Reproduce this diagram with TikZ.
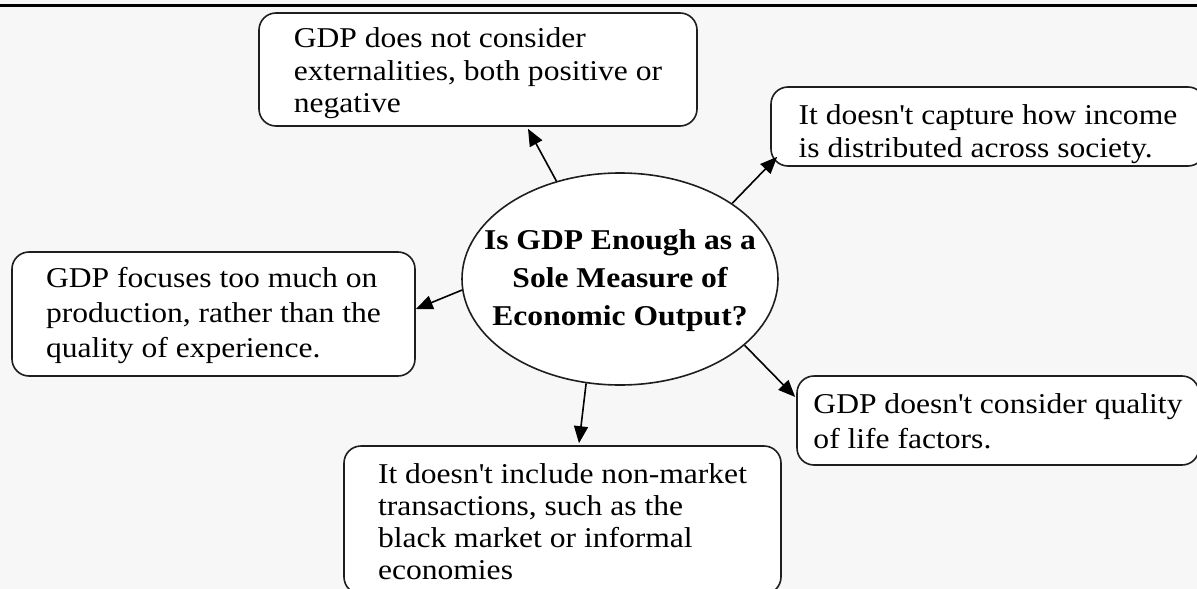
\documentclass[tikz,border=0pt]{standalone}
\usepackage{fontspec}
\setmainfont{Liberation Serif}[FakeStretch=1.1]
\usetikzlibrary{arrows.meta,shapes.geometric}
\definecolor{bgcol}{RGB}{247,247,247}
\definecolor{edgecol}{RGB}{30,30,30}
\newcommand\ap{\textquotesingle}
\newcommand\btext[2]{{\fontsize{28.7}{#1}\selectfont\begin{tabular}[t]{@{}l@{}}#2\end{tabular}}}
\newcommand\ctext[2]{\makebox[0pt][c]{\fontsize{28.7}{#1}\selectfont\bfseries\begin{tabular}[t]{@{}c@{}}#2\end{tabular}}}
\begin{document}
\begin{tikzpicture}[x=1pt,y=-1pt,
  box/.style={draw=edgecol, line width=1.6pt, rounded corners=17pt, fill=white,
    inner sep=0pt, text height=0pt, anchor=center},
  oval/.style={ellipse, draw=edgecol, line width=1.6pt, fill=white, inner sep=0pt,
    text height=0pt, anchor=center},
  arr/.style={-{Triangle[length=17pt,width=14pt]}, line width=1.6pt, draw=black},
]
\useasboundingbox (0,0) rectangle (1197,589);
\clip (0,0) rectangle (1197,589);
\fill[bgcol] (0,0) rectangle (1197,589);
\draw[line width=2.5pt, black] (0,5.3) -- (1197,5.3);

\node[oval, minimum width=316pt, minimum height=212pt, text depth=60pt] (q) at (620,279)
  {\ctext{38}{Is GDP Enough as a\\Sole Measure of\\Economic Output?}};

\node[box, minimum width=438pt, minimum height=113pt, text depth=45pt] (ext) at (478,69.5)
  {\btext{33}{GDP does not consider\\externalities, both positive or\\negative}};
\node[box, minimum width=434pt, minimum height=79pt, text depth=5pt] (inc) at (988,126.5)
  {\btext{33}{It doesn\ap t capture how income\\is distributed across society.}};
\node[box, minimum width=403pt, minimum height=124pt, text depth=54pt] (prod) at (213.5,314)
  {\btext{35}{GDP focuses too much on\\production, rather than the\\quality of experience.}};
\node[box, minimum width=402pt, minimum height=89pt, text depth=15pt] (qual) at (998,420.5)
  {\btext{35}{GDP doesn\ap t consider quality\\of life factors.}};
\node[box, minimum width=437pt, minimum height=148pt, text depth=74pt] (nonm) at (562.5,520)
  {\btext{32}{It doesn\ap t include non-market\\transactions, such as the\\black market or informal\\economies}};

\draw[arr] (q.123) -- ([xshift=50pt,yshift=-2pt]ext.south);
\draw[arr] (q.34) -- ([xshift=7pt,yshift=10pt]inc.south west);
\draw[arr] (q.184) -- ([yshift=5pt]prod.east);
\draw[arr] (q.-28) -- ([xshift=-1pt,yshift=23.5pt]qual.west);
\draw[arr] (q.-108) -- ([xshift=16.5pt,yshift=2pt]nonm.north);
\end{tikzpicture}
\end{document}
